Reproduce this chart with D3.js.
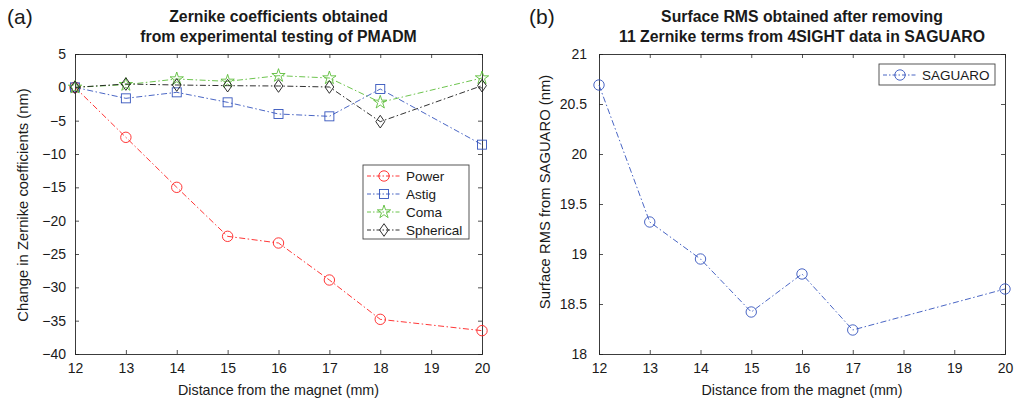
<!DOCTYPE html>
<html><head><meta charset="utf-8">
<script src="https://cdn.jsdelivr.net/npm/d3@7"></script>
<style>body{margin:0;background:#fff}text{font-family:"Liberation Sans",Arial,sans-serif;fill:#1a1a1a}</style>
</head><body><svg id="c" width="1016" height="403"></svg>
<script>
const distA = [12,13,14,15,16,17,18,20];
const power = [0,-7.5,-15,-22.35,-23.35,-28.9,-34.8,-36.5];
const astig = [0,-1.65,-0.75,-2.25,-4.0,-4.35,-0.25,-8.6];
const coma = [0,0.4,1.25,0.9,1.75,1.4,-2.25,1.4];
const spherical = [0,0.5,0.35,0.25,0.2,0.05,-5.15,0.25];
const distB = [12,13,14,15,16,17,20];
const saguaro = [20.69,19.32,18.95,18.42,18.80,18.24,18.65];
const xTicks = [12,13,14,15,16,17,18,19,20];
const yTicksA = [5,0,-5,-10,-15,-20,-25,-30,-35,-40];
const yTicksB = [18,18.5,19,19.5,20,20.5,21];

const svg = d3.select('#c');
const axCol = '#262626';

function panel(opt){
  const g = svg.append('g');
  const x = d3.scaleLinear().domain([12,20]).range([opt.x0,opt.x1]);
  const y = d3.scaleLinear().domain(opt.ydom).range([opt.y1,opt.y0]);
  const tl = 4;
  const ax = g.append('g');
  ax.append('g').attr('transform',`translate(0,${opt.y1})`)
    .call(d3.axisBottom(x).tickValues(xTicks).tickSize(-tl).tickPadding(9).tickFormat(d3.format('d')));
  ax.append('g').attr('transform',`translate(0,${opt.y0})`)
    .call(d3.axisTop(x).tickValues(xTicks).tickSize(-tl).tickFormat(''));
  ax.append('g').attr('transform',`translate(${opt.x0},0)`)
    .call(d3.axisLeft(y).tickValues(opt.yticks).tickSize(-tl).tickPadding(opt.ypad).tickFormat(opt.yfmt));
  ax.append('g').attr('transform',`translate(${opt.x1},0)`)
    .call(d3.axisRight(y).tickValues(opt.yticks).tickSize(-tl).tickFormat(''));
  ax.selectAll('path.domain').attr('stroke',axCol).attr('stroke-width',0.9);
  ax.selectAll('.tick line').attr('stroke',axCol).attr('stroke-width',0.8);
  ax.selectAll('.tick text').style('font-size','14px').attr('fill','#1a1a1a').style('font-family','"Liberation Sans",Arial,sans-serif');
  g.append('text').attr('x',(opt.x0+opt.x1)/2).attr('y',22).attr('text-anchor','middle')
    .style('font-weight','bold').style('font-size','15.8px').text(opt.t1);
  g.append('text').attr('x',(opt.x0+opt.x1)/2).attr('y',42).attr('text-anchor','middle')
    .style('font-weight','bold').style('font-size','15.8px').text(opt.t2);
  g.append('text').attr('x',opt.labx).attr('y',24).style('font-size','21px').text(opt.lab);
  g.append('text').attr('x',(opt.x0+opt.x1)/2).attr('y',395).attr('text-anchor','middle')
    .style('font-size','14.3px').text('Distance from the magnet (mm)');
  g.append('text').attr('transform',`translate(${opt.ylx},${opt.ylc}) rotate(-90)`)
    .attr('text-anchor','middle').style('font-size','14.8px').text(opt.ylab);
  return {g,x,y};
}

const dash = '6,2.5,1.5,2.5';
function marker(g, type, cx, cy, col){
  if(type==='circle'){
    g.append('circle').attr('cx',cx).attr('cy',cy).attr('r',5.2).attr('fill','none').attr('stroke',col).attr('stroke-width',0.9);
  } else if(type==='square'){
    g.append('rect').attr('x',cx-4.5).attr('y',cy-4.5).attr('width',9).attr('height',9).attr('fill','none').attr('stroke',col).attr('stroke-width',0.9);
  } else if(type==='star'){
    g.append('path').attr('transform',`translate(${cx},${cy})`)
      .attr('d',d3.symbol().type(d3.symbolStar).size(55)()).attr('fill','none').attr('stroke',col).attr('stroke-width',0.9);
  } else if(type==='diamond'){
    const s=5.5;
    g.append('path').attr('d',`M${cx},${cy-s*1.15}L${cx+s*0.8},${cy}L${cx},${cy+s*1.15}L${cx-s*0.8},${cy}Z`)
      .attr('fill','none').attr('stroke',col).attr('stroke-width',0.9);
  }
}
function series(p, xs, ys, col, type){
  const line = d3.line().x((d,i)=>p.x(xs[i])).y(d=>p.y(d));
  p.g.append('path').attr('d',line(ys)).attr('fill','none').attr('stroke',col).attr('stroke-width',0.9).attr('stroke-dasharray',dash);
  ys.forEach((v,i)=>marker(p.g,type,p.x(xs[i]),p.y(v),col));
}

const A = panel({x0:75,x1:482,y0:54,y1:354,ydom:[-40,5],yticks:yTicksA,yfmt:d3.format('d'),ypad:9,
  t1:'Zernike coefficients obtained',t2:'from experimental testing of PMADM',lab:'(a)',labx:7,
  ylab:'Change in Zernike coefficients (nm)',ylx:28,ylc:205});
const B = panel({x0:599,x1:1005,y0:54,y1:354,ydom:[18,21],yticks:yTicksB,ypad:12,yfmt:d => (d%1===0? d3.format('d')(d): d3.format('.1f')(d)),
  t1:'Surface RMS obtained after removing',t2:'11 Zernike terms from 4SIGHT data in SAGUARO',lab:'(b)',labx:529,
  ylab:'Surface RMS from SAGUARO (nm)',ylx:550,ylc:192});

const cols = {power:'#ff2020',astig:'#3655bd',coma:'#5cbd3a',sph:'#1a1a1a'};
series(A, distA, power, cols.power, 'circle');
series(A, distA, astig, cols.astig, 'square');
series(A, distA, coma, cols.coma, 'star');
series(A, distA, spherical, cols.sph, 'diamond');
series(B, distB, saguaro, cols.astig, 'circle');

function legend(g, x, y, w, h, items){
  g.append('rect').attr('x',x).attr('y',y).attr('width',w).attr('height',h).attr('fill','#fff').attr('stroke','#444').attr('stroke-width',0.9);
  items.forEach((it,i)=>{
    const cy = y + 11 + i*18;
    g.append('line').attr('x1',x+4).attr('x2',x+38).attr('y1',cy).attr('y2',cy).attr('stroke',it.col).attr('stroke-width',0.9).attr('stroke-dasharray','4,2,1.5,2');
    marker(g,it.type,x+21,cy,it.col);
    g.append('text').attr('x',x+43).attr('y',cy+4.8).style('font-size','13.5px').text(it.name);
  });
}
legend(A.g, 363, 165, 106, 74, [
  {name:'Power',col:cols.power,type:'circle'},
  {name:'Astig',col:cols.astig,type:'square'},
  {name:'Coma',col:cols.coma,type:'star'},
  {name:'Spherical',col:cols.sph,type:'diamond'}]);
legend(B.g, 879, 64, 116, 21, [{name:'SAGUARO',col:cols.astig,type:'circle'}]);
</script></body></html>
